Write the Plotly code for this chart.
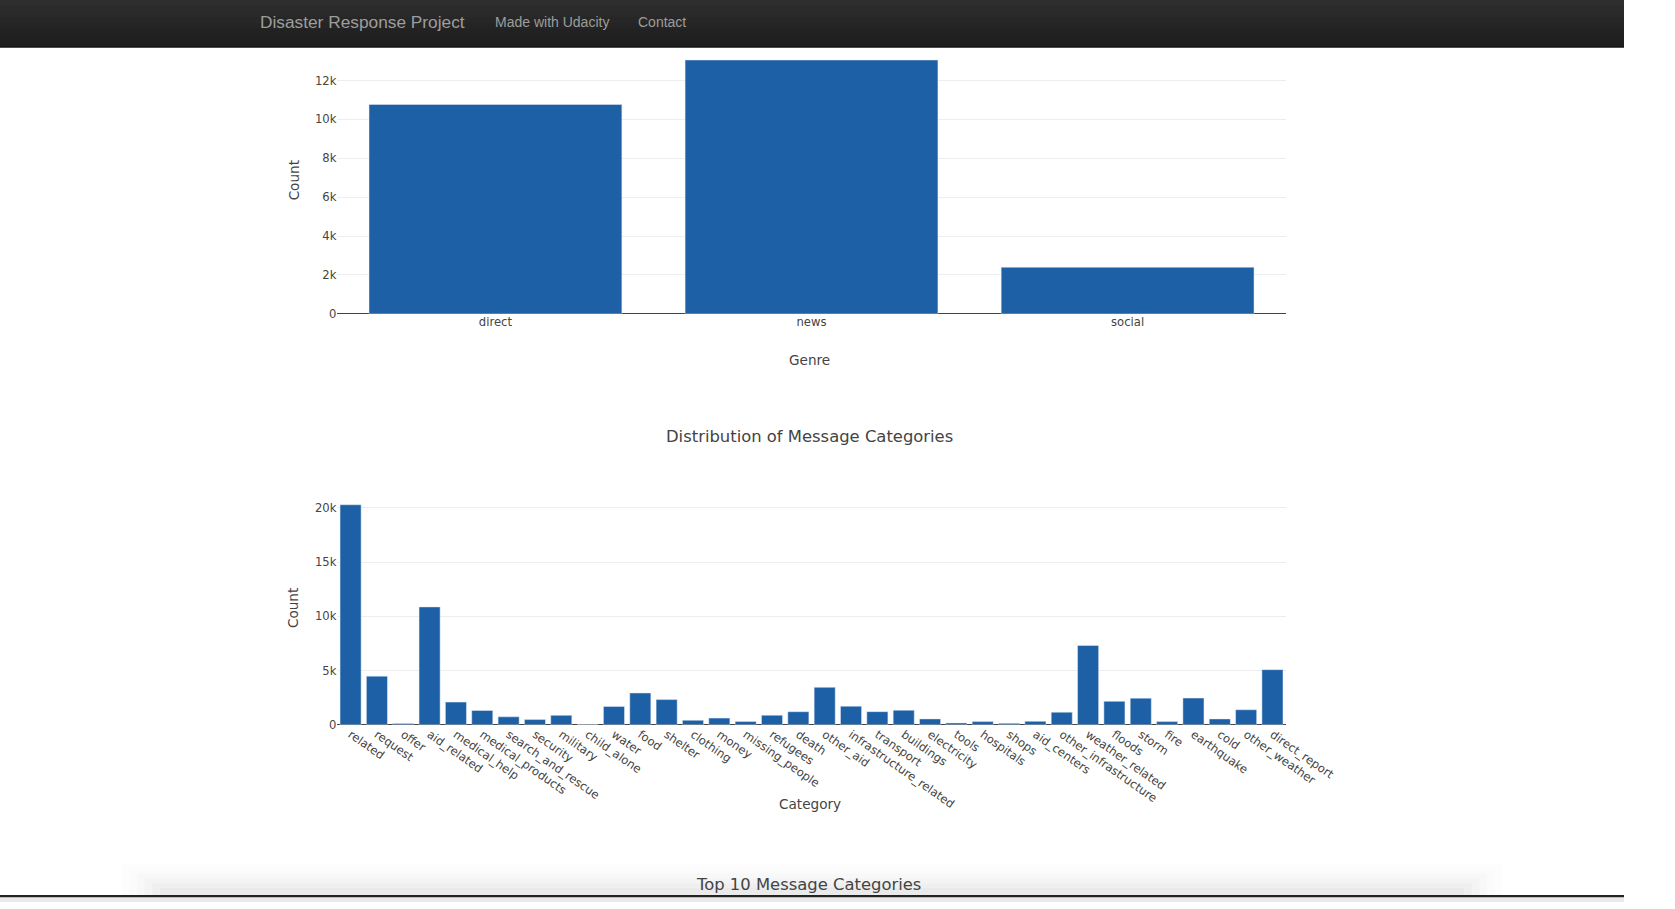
import plotly.graph_objects as go

# ---- data ----
genre_names = ["direct", "news", "social"]
genre_counts = [10766, 13054, 2396]

category_names = ["related", "request", "offer", "aid_related", "medical_help", "medical_products",
                  "search_and_rescue", "security", "military", "child_alone", "water", "food", "shelter",
                  "clothing", "money", "missing_people", "refugees", "death", "other_aid",
                  "infrastructure_related", "transport", "buildings", "electricity", "tools", "hospitals",
                  "shops", "aid_centers", "other_infrastructure", "weather_related", "floods", "storm",
                  "fire", "earthquake", "cold", "other_weather", "direct_report"]
category_counts = [20282, 4474, 118, 10860, 2084, 1313, 724, 471, 860, 0, 1672, 2923, 2314, 405, 604, 298,
                   875, 1194, 3446, 1705, 1201, 1333, 532, 159, 283, 120, 309, 1151, 7297, 2155, 2443, 282,
                   2455, 530, 1376, 5075]

W, H = 1675, 909
BAR = "#1d60a5"
FONT = "Verdana, DejaVu Sans, sans-serif"
TXT = "#444"

def py(p):
    return 1 - p / H

def px(p):
    return p / W

fig = go.Figure()
fig.add_trace(go.Bar(x=genre_names, y=genre_counts, marker_color=BAR, xaxis="x", yaxis="y",
                     showlegend=False))
fig.add_trace(go.Bar(x=category_names, y=category_counts, marker_color=BAR, xaxis="x2", yaxis="y2",
                     showlegend=False))

axis_common = dict(gridcolor="#eee", zerolinecolor="#444", zerolinewidth=1, showline=False,
                   tickfont=dict(size=11.6, color=TXT, family=FONT), ticks="")

fig.update_layout(
    autosize=True,
    margin=dict(l=0, r=0, t=0, b=0),
    paper_bgcolor="white", plot_bgcolor="white",
    font=dict(family=FONT, color=TXT),
    bargap=0.2,
    xaxis=dict(domain=[px(348), px(1326)], anchor="y", showgrid=False, **axis_common),
    yaxis=dict(domain=[py(316.2), py(47)], anchor="x", showgrid=True, **axis_common),
    xaxis2=dict(domain=[px(348), px(1326)], anchor="y2", showgrid=False, tickangle=35, **axis_common),
    yaxis2=dict(domain=[py(730.3), py(497)], anchor="x2", showgrid=True, **axis_common),
)

shapes = []
n = 8
top_c, bot_c = (0x2e, 0x2e, 0x2e), (0x1e, 0x1e, 0x1e)
shapes.append(dict(type="rect", xref="paper", yref="paper", x0=0, x1=1, y0=py(47), y1=1,
                   fillcolor="rgb(30,30,30)", line=dict(width=0), layer="above"))
for i in range(n):
    t = i / (n - 1)
    c = tuple(int(top_c[k] + (bot_c[k] - top_c[k]) * t) for k in range(3))
    shapes.append(dict(type="rect", xref="paper", yref="paper", x0=0, x1=1,
                       y0=py(47 * (i + 1) / n + 0.5), y1=py(47 * i / n),
                       fillcolor="rgb(%d,%d,%d)" % c, line=dict(width=0), layer="above"))
shapes.append(dict(type="line", xref="paper", yref="paper", x0=0, x1=1, y0=py(47.5), y1=py(47.5),
                   line=dict(color="#080808", width=1), layer="above"))
# very soft bottom shadow of the page container
for i, a in enumerate([0.006, 0.009, 0.012, 0.015, 0.018, 0.021]):
    shapes.append(dict(type="rect", xref="paper", yref="paper", x0=px(125 + i * 8), x1=px(1550 - i * 8),
                       y0=py(902), y1=py(870 + i * 5), fillcolor="rgba(0,0,0,%s)" % a,
                       line=dict(width=0), layer="below"))
shapes.append(dict(type="rect", xref="paper", yref="paper", x0=0, x1=1, y0=py(904.5), y1=py(902),
                   fillcolor="#222", line=dict(width=0), layer="above"))
shapes.append(dict(type="rect", xref="paper", yref="paper", x0=0, x1=1, y0=0, y1=py(904.5),
                   fillcolor="#e9e9e9", line=dict(width=0), layer="above"))
fig.update_layout(shapes=shapes)

nav_font = "Helvetica Neue, Liberation Sans, Arial, sans-serif"

def ann(text, x, y, size, family=FONT, color=TXT, xanchor="center", angle=0):
    return dict(text=text, x=px(x), y=py(y), xref="paper", yref="paper", xanchor=xanchor,
                yanchor="middle", showarrow=False, textangle=angle,
                font=dict(family=family, size=size, color=color))

annotations = [
    ann("Disaster Response Project", 266, 22, 17.3, nav_font, "#9d9d9d", "left"),
    ann("Made with Udacity", 508, 22, 14, nav_font, "#9d9d9d", "left"),
    ann("Contact", 656, 22, 14, nav_font, "#9d9d9d", "left"),
    ann("Count", 303, 182, 13.6, angle=-90),
    ann("Genre", 835, 363, 13.6),
    ann("Distribution of Message Categories", 835, 440, 16.4),
    ann("Count", 303, 613, 13.6, angle=-90),
    ann("Category", 835, 810, 13.6),
    ann("Top 10 Message Categories", 834, 891, 16.4),
]
fig.update_layout(annotations=annotations)

fig.write_html("out.html", config={"displayModeBar": False, "responsive": True},
               default_width="100vw", default_height="100vh",
               post_script="document.body.style.margin='0';document.body.style.overflow='hidden';")
